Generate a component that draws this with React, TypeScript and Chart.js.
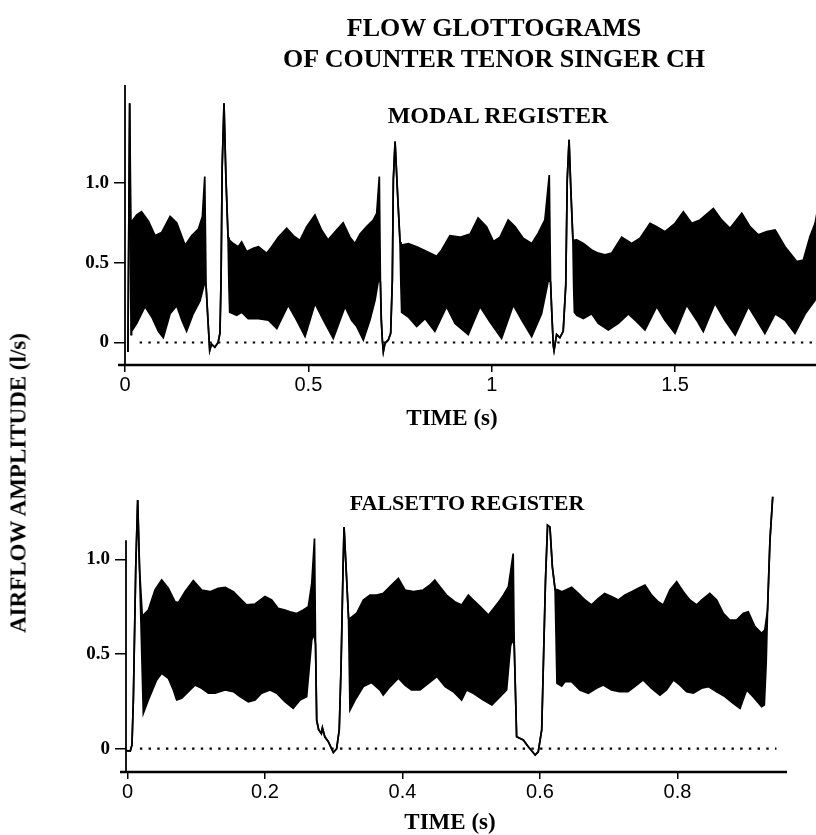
import React, { useEffect, useRef } from 'react';
import { Chart, registerables } from 'chart.js';

Chart.register(...registerables);

type Pt = [number, number];

// ---------- MODAL REGISTER (top panel) ----------
// shared single-line trace (onsets, closed phases and glottal pulses)
const modalTrace: Pt[] = [
  [0.008, -0.06], [0.0127, 1.5],
  [0.221, 0.36], [0.226, 0.15], [0.231, -0.05], [0.236, -0.01], [0.245, -0.03], [0.254, 0.0], [0.259, 0.06],
  [0.262, 0.4], [0.265, 1.1], [0.27, 1.5], [0.275, 1.05], [0.281, 0.66],
  [0.6965, 0.38], [0.699, 0.14], [0.7018, 0.016], [0.7045, -0.057], [0.709, -0.005], [0.718, 0.016], [0.7245, 0.057],
  [0.729, 0.39], [0.7318, 1.02], [0.7365, 1.26], [0.7436, 0.92], [0.75, 0.63],
  [1.1605, 0.38], [1.164, 0.18], [1.168, -0.02], [1.17, -0.05], [1.177, 0.05], [1.186, 0.03], [1.195, 0.07],
  [1.202, 0.36], [1.206, 1.02], [1.211, 1.27], [1.216, 0.95], [1.2215, 0.64],
];
// upper envelope of the dense oscillation
const modalUpper: Pt[] = [
  [0.016, 0.76], [0.018, 0.757], [0.032, 0.8], [0.045, 0.82], [0.064, 0.76], [0.082, 0.67], [0.1, 0.69], [0.123, 0.79],
  [0.141, 0.75], [0.164, 0.61], [0.182, 0.67], [0.2, 0.71], [0.211, 0.79], [0.2175, 1.04],
  [0.2855, 0.64], [0.295, 0.62], [0.309, 0.6], [0.318, 0.63], [0.332, 0.57], [0.35, 0.59], [0.364, 0.6], [0.386, 0.56],
  [0.4, 0.6], [0.418, 0.66], [0.441, 0.716], [0.459, 0.67], [0.477, 0.64], [0.4955, 0.726], [0.518, 0.8], [0.536, 0.705],
  [0.554, 0.643], [0.577, 0.705], [0.595, 0.75], [0.6135, 0.66], [0.627, 0.62], [0.641, 0.68], [0.659, 0.726],
  [0.677, 0.768], [0.6864, 0.81], [0.6935, 1.04],
  [0.7545, 0.61], [0.7727, 0.62], [0.7955, 0.6], [0.823, 0.57], [0.85, 0.54], [0.8636, 0.58], [0.886, 0.67],
  [0.9135, 0.66], [0.941, 0.68], [0.963, 0.78], [0.986, 0.726], [1.005, 0.633], [1.0226, 0.66], [1.045, 0.768],
  [1.0635, 0.726], [1.086, 0.654], [1.109, 0.62], [1.127, 0.685], [1.145, 0.768], [1.157, 1.05],
  [1.232, 0.643], [1.25, 0.62], [1.2727, 0.58], [1.2908, 0.56], [1.309, 0.55], [1.327, 0.56], [1.3545, 0.66],
  [1.3818, 0.62], [1.4045, 0.654], [1.4317, 0.747], [1.45, 0.726], [1.4725, 0.695], [1.5, 0.747], [1.5227, 0.82],
  [1.5454, 0.747], [1.568, 0.768], [1.6045, 0.84], [1.627, 0.768], [1.65, 0.716], [1.682, 0.81], [1.7045, 0.726],
  [1.727, 0.675], [1.75, 0.695], [1.773, 0.705], [1.8, 0.6], [1.832, 0.507], [1.8499, 0.517], [1.868, 0.664],
  [1.882, 0.747], [1.89, 0.85],
];
// lower envelope of the dense oscillation
const modalLower: Pt[] = [
  [0.0165, 0.05], [0.018, 0.07], [0.032, 0.12], [0.0545, 0.225], [0.073, 0.16], [0.091, 0.07], [0.1045, 0.03],
  [0.123, 0.18], [0.141, 0.23], [0.155, 0.14], [0.168, 0.07], [0.186, 0.18], [0.2045, 0.26], [0.2165, 0.37],
  [0.2835, 0.35], [0.2855, 0.19], [0.3045, 0.17], [0.318, 0.19], [0.336, 0.15], [0.364, 0.15], [0.391, 0.14],
  [0.414, 0.088], [0.445, 0.235], [0.468, 0.14], [0.491, 0.037], [0.518, 0.245], [0.541, 0.14], [0.568, 0.026],
  [0.6, 0.225], [0.618, 0.14], [0.632, 0.1], [0.65, 0.016], [0.668, 0.141], [0.682, 0.266], [0.691, 0.39],
  [0.7525, 0.35], [0.7545, 0.19], [0.7727, 0.16], [0.7955, 0.1], [0.818, 0.15], [0.845, 0.07], [0.877, 0.225],
  [0.9, 0.12], [0.936, 0.05], [0.968, 0.225], [0.995, 0.13], [1.027, 0.026], [1.059, 0.235], [1.082, 0.14],
  [1.109, 0.037], [1.136, 0.18], [1.1545, 0.39],
  [1.2235, 0.35], [1.2255, 0.19], [1.232, 0.17], [1.25, 0.15], [1.2727, 0.18], [1.2908, 0.12], [1.318, 0.078],
  [1.3454, 0.12], [1.3727, 0.18], [1.3954, 0.131], [1.418, 0.078], [1.45, 0.225], [1.4725, 0.14], [1.5, 0.057],
  [1.5318, 0.235], [1.559, 0.14], [1.577, 0.068], [1.609, 0.246], [1.636, 0.14], [1.664, 0.047], [1.7, 0.225],
  [1.7227, 0.14], [1.745, 0.057], [1.773, 0.18], [1.8, 0.14], [1.827, 0.057], [1.855, 0.18], [1.882, 0.266],
  [1.89, 0.35],
];
const modalZeroLine: Pt[] = [[0.04, 0], [1.884, 0]];
const modalXTicks = [0, 0.5, 1, 1.5];
const modalXTickLabels = ['0', '0.5', '1', '1.5'];

// ---------- FALSETTO REGISTER (bottom panel) ----------
const falsettoTrace: Pt[] = [
  [-0.002, -0.01], [0.004, -0.012], [0.0065, 0.02], [0.0085, 0.26], [0.012, 0.96], [0.0148, 1.313], [0.0175, 0.95],
  [0.2735, 0.55], [0.2752, 0.15], [0.278, 0.1], [0.282, 0.08], [0.2835, 0.11], [0.287, 0.063], [0.2921, 0.037],
  [0.2994, -0.02], [0.3042, 0.0], [0.308, 0.1], [0.3106, 0.43], [0.3135, 0.95], [0.315, 1.17], [0.318, 0.95],
  [0.3215, 0.69],
  [0.5625, 0.55], [0.566, 0.063], [0.5757, 0.046], [0.583, 0.01], [0.593, -0.033], [0.5975, -0.016], [0.6025, 0.1],
  [0.608, 0.89], [0.611, 1.18], [0.6145, 1.17], [0.618, 0.96], [0.622, 0.84],
  [0.931, 0.732], [0.9345, 1.1], [0.9385, 1.33],
];
const falsettoUpper: Pt[] = [
  [0.0215, 0.7], [0.0303, 0.732], [0.04, 0.838], [0.0497, 0.891], [0.0594, 0.847], [0.069, 0.776], [0.074, 0.771],
  [0.0836, 0.829], [0.0957, 0.887], [0.108, 0.838], [0.12, 0.829], [0.132, 0.847], [0.142, 0.852], [0.154, 0.829],
  [0.166, 0.785], [0.173, 0.759], [0.1855, 0.764], [0.2, 0.803], [0.2097, 0.785], [0.219, 0.741], [0.229, 0.732],
  [0.2364, 0.723], [0.246, 0.714], [0.2557, 0.732], [0.263, 0.75], [0.268, 0.873], [0.272, 1.11],
  [0.3236, 0.688], [0.3333, 0.715], [0.343, 0.785], [0.3527, 0.811], [0.3624, 0.811], [0.372, 0.82], [0.384, 0.864],
  [0.394, 0.899], [0.4036, 0.838], [0.416, 0.829], [0.43, 0.838], [0.44, 0.864], [0.447, 0.891], [0.4545, 0.855],
  [0.464, 0.811], [0.476, 0.776], [0.486, 0.759], [0.4958, 0.811], [0.503, 0.785], [0.513, 0.75], [0.525, 0.706],
  [0.5345, 0.75], [0.542, 0.785], [0.5467, 0.811], [0.554, 0.855], [0.561, 1.03],
  [0.6247, 0.84], [0.632, 0.829], [0.646, 0.852], [0.6558, 0.82], [0.6655, 0.785], [0.675, 0.759], [0.685, 0.794],
  [0.694, 0.82], [0.704, 0.803], [0.714, 0.785], [0.7236, 0.811], [0.7333, 0.829], [0.743, 0.847], [0.7527, 0.864],
  [0.7624, 0.811], [0.772, 0.776], [0.7794, 0.759], [0.789, 0.838], [0.7988, 0.882], [0.8085, 0.829], [0.818, 0.785],
  [0.828, 0.759], [0.835, 0.785], [0.847, 0.82], [0.857, 0.785], [0.8667, 0.715], [0.876, 0.679], [0.886, 0.679],
  [0.8958, 0.715], [0.903, 0.723], [0.9127, 0.644], [0.9224, 0.609], [0.927, 0.627],
];
const falsettoLower: Pt[] = [
  [0.023, 0.187], [0.0303, 0.257], [0.0424, 0.363], [0.0497, 0.398], [0.0594, 0.372], [0.0667, 0.31], [0.0715, 0.257],
  [0.0788, 0.266], [0.0885, 0.301], [0.098, 0.336], [0.108, 0.319], [0.1176, 0.293], [0.1273, 0.293], [0.142, 0.31],
  [0.154, 0.301], [0.1636, 0.275], [0.1758, 0.248], [0.1855, 0.257], [0.195, 0.293], [0.2073, 0.31], [0.217, 0.293],
  [0.229, 0.248], [0.241, 0.213], [0.251, 0.257], [0.2606, 0.275], [0.268, 0.574], [0.271, 0.609],
  [0.3236, 0.204], [0.331, 0.257], [0.343, 0.328], [0.355, 0.349], [0.3673, 0.31], [0.372, 0.283], [0.382, 0.328],
  [0.394, 0.372], [0.4036, 0.336], [0.413, 0.31], [0.4255, 0.31], [0.4376, 0.345], [0.45, 0.381], [0.462, 0.328],
  [0.474, 0.301], [0.486, 0.257], [0.4933, 0.31], [0.503, 0.293], [0.5176, 0.257], [0.53, 0.231], [0.542, 0.275],
  [0.5515, 0.31], [0.557, 0.539], [0.5594, 0.574],
  [0.6247, 0.345], [0.6315, 0.33], [0.6364, 0.354], [0.646, 0.354], [0.658, 0.31], [0.6703, 0.293], [0.682, 0.319],
  [0.692, 0.336], [0.704, 0.31], [0.716, 0.301], [0.728, 0.301], [0.7406, 0.336], [0.75, 0.363], [0.7624, 0.319],
  [0.7745, 0.283], [0.784, 0.31], [0.794, 0.363], [0.8036, 0.336], [0.8133, 0.301], [0.823, 0.293], [0.835, 0.319],
  [0.845, 0.328], [0.857, 0.301], [0.869, 0.275], [0.881, 0.239], [0.891, 0.213], [0.9006, 0.31], [0.91, 0.275],
  [0.9224, 0.222], [0.9263, 0.231], [0.929, 0.45],
];
const falsettoZeroLine: Pt[] = [[0.018, 0], [0.944, 0]];
const falsettoXTicks = [0, 0.2, 0.4, 0.6, 0.8];
const falsettoXTickLabels = ['0', '0.2', '0.4', '0.6', '0.8'];

const yTicks = [0, 0.5, 1.0];
const yTickLabels = ['0', '0.5', '1.0'];

// ---------- helpers ----------
const merge = (a: Pt[], b: Pt[]) =>
  [...a, ...b].sort((p, q) => p[0] - q[0]).map(([x, y]) => ({ x, y }));
const toXY = (a: Pt[]) => a.map(([x, y]) => ({ x, y }));

const SERIF = '"Liberation Serif", "Times New Roman", serif';
const NARROW = '"Liberation Sans Narrow", "Liberation Sans", Arial, sans-serif';

// draws the two axis lines (x axis a bit longer to the left, y axis from a given value down)
const axisLines = {
  id: 'axisLines',
  afterDraw(chart: any, _args: any, opts: any) {
    const { ctx, chartArea: a, scales } = chart;
    ctx.save();
    ctx.strokeStyle = '#000';
    ctx.lineWidth = 2.5;
    ctx.beginPath();
    ctx.moveTo(a.left - opts.xExtendLeft, a.bottom);
    ctx.lineTo(a.right, a.bottom);
    ctx.stroke();
    ctx.lineWidth = 1.8;
    const yTop = Math.max(a.top, scales.y.getPixelForValue(opts.yTopValue));
    ctx.beginPath();
    ctx.moveTo(a.left, yTop);
    ctx.lineTo(a.left, a.bottom);
    ctx.stroke();
    ctx.restore();
  },
};

interface PanelCfg {
  trace: Pt[];
  upper: Pt[];
  lower: Pt[];
  zero: Pt[];
  xTicks: number[];
  xLabels: string[];
  xMin: number;
  xMax: number;
  yMin: number;
  yMax: number;
  padTop: number;
  padRight: number;
  yAxisW: number;
  xAxisH: number;
  yAxisTopValue: number;
  xExtendLeft: number;
}

function makeChart(canvas: HTMLCanvasElement, c: PanelCfg) {
  return new Chart(canvas, {
    type: 'line',
    data: {
      datasets: [
        {
          data: merge(c.trace, c.upper),
          borderColor: '#000',
          borderWidth: 1.7,
          pointRadius: 0,
          fill: false,
          tension: 0,
        },
        {
          data: merge(c.trace, c.lower),
          borderColor: '#000',
          borderWidth: 1.7,
          pointRadius: 0,
          fill: '-1',
          backgroundColor: '#000',
          tension: 0,
        },
        {
          data: toXY(c.zero),
          borderColor: '#000',
          borderWidth: 2.2,
          borderDash: [2.4, 6.3],
          pointRadius: 0,
          fill: false,
        },
      ],
    } as any,
    plugins: [axisLines as any],
    options: {
      responsive: false,
      animation: false,
      events: [],
      layout: { padding: { top: c.padTop, right: c.padRight, left: 0, bottom: 0 } },
      plugins: {
        legend: { display: false },
        tooltip: { enabled: false },
        title: { display: false },
        axisLines: { yTopValue: c.yAxisTopValue, xExtendLeft: c.xExtendLeft },
      },
      scales: {
        x: {
          type: 'linear',
          min: c.xMin,
          max: c.xMax,
          afterFit: (s: any) => { s.height = c.xAxisH; },
          afterBuildTicks: (s: any) => { s.ticks = c.xTicks.map((v) => ({ value: v })); },
          ticks: {
            autoSkip: false,
            maxRotation: 0,
            padding: 1,
            color: '#000',
            font: { family: NARROW, size: 20 },
            callback: (_v: any, i: number) => c.xLabels[i],
          },
          grid: { drawOnChartArea: false, drawTicks: true, tickLength: 7, color: '#000', lineWidth: 1.5 },
          border: { display: false },
        },
        y: {
          type: 'linear',
          min: c.yMin,
          max: c.yMax,
          afterFit: (s: any) => { s.width = c.yAxisW; },
          afterBuildTicks: (s: any) => { s.ticks = yTicks.map((v) => ({ value: v })); },
          ticks: {
            autoSkip: false,
            padding: 5,
            color: '#000',
            font: { family: SERIF, size: 19, weight: 'bold' },
            callback: (_v: any, i: number) => yTickLabels[i],
          },
          grid: { drawOnChartArea: false, drawTicks: true, tickLength: 11, color: '#000', lineWidth: 1.5 },
          border: { display: false },
        },
      },
    } as any,
  });
}

const Label: React.FC<{ x: number; y: number; size: number; text: string; rotate?: boolean }> = ({
  x, y, size, text, rotate,
}) => (
  <div
    style={{
      position: 'absolute',
      left: x,
      top: y,
      transform: `translate(-50%, -50%)${rotate ? ' rotate(-90deg)' : ''}`,
      fontFamily: SERIF,
      fontWeight: 'bold',
      fontSize: size,
      lineHeight: 1,
      whiteSpace: 'nowrap',
      color: '#000',
    }}
  >
    {text}
  </div>
);

export default function App() {
  const topRef = useRef<HTMLCanvasElement>(null);
  const botRef = useRef<HTMLCanvasElement>(null);

  useEffect(() => {
    const top = makeChart(topRef.current!, {
      trace: modalTrace,
      upper: modalUpper,
      lower: modalLower,
      zero: modalZeroLine,
      xTicks: modalXTicks,
      xLabels: modalXTickLabels,
      xMin: 0,
      xMax: 1.8844,
      yMin: -0.141,
      yMax: 1.614,
      padTop: 85,
      padRight: 0,
      yAxisW: 125,
      xAxisH: 55,
      yAxisTopValue: 1.614,
      xExtendLeft: 7,
    });
    const bot = makeChart(botRef.current!, {
      trace: falsettoTrace,
      upper: falsettoUpper,
      lower: falsettoLower,
      zero: falsettoZeroLine,
      xTicks: falsettoXTicks,
      xLabels: falsettoXTickLabels,
      xMin: -0.0022,
      xMax: 0.9593,
      yMin: -0.123,
      yMax: 1.3606,
      padTop: 61,
      padRight: 29,
      yAxisW: 126,
      xAxisH: 63,
      yAxisTopValue: 1.1,
      xExtendLeft: 6,
    });
    return () => {
      top.destroy();
      bot.destroy();
    };
  }, []);

  return (
    <div style={{ position: 'absolute', left: 0, top: 0, width: 816, height: 835, background: '#fff', overflow: 'hidden' }}>
      <div style={{ position: 'absolute', left: 0, top: 0 }}>
        <canvas ref={topRef} width={816} height={420} style={{ display: 'block', width: 816, height: 420 }} />
      </div>
      <div style={{ position: 'absolute', left: 0, top: 430 }}>
        <canvas ref={botRef} width={816} height={405} style={{ display: 'block', width: 816, height: 405 }} />
      </div>
      <Label x={494} y={28} size={26} text="FLOW GLOTTOGRAMS" />
      <Label x={494} y={59} size={26} text="OF COUNTER TENOR SINGER CH" />
      <Label x={498} y={115} size={24} text="MODAL REGISTER" />
      <Label x={452} y={417} size={23} text="TIME (s)" />
      <Label x={467} y={503} size={22} text="FALSETTO REGISTER" />
      <Label x={450} y={821} size={23} text="TIME (s)" />
      <Label x={18} y={483} size={23} text="AIRFLOW AMPLITUDE (l/s)" rotate />
    </div>
  );
}
